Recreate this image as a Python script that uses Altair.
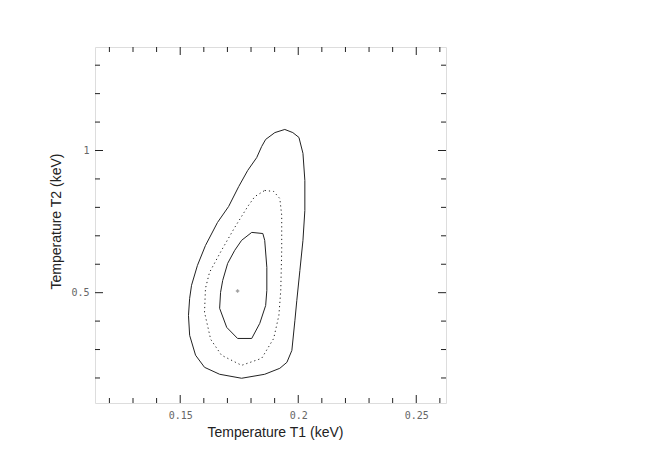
import altair as alt
import pandas as pd

# Contour data (Temperature T1 vs T2, keV)
outer_t1 = [0.1943, 0.1977, 0.2003, 0.2020, 0.2028, 0.2028, 0.2020, 0.2007, 0.1994, 0.1986,
            0.1973, 0.1952, 0.1922, 0.1858, 0.1760, 0.1667, 0.1603, 0.1565, 0.1540, 0.1535,
            0.1540, 0.1548, 0.1573, 0.1607, 0.1658, 0.1705, 0.1748, 0.1786, 0.1824, 0.1845,
            0.1862, 0.1901, 0.1943]
outer_t2 = [1.074, 1.063, 1.046, 0.990, 0.895, 0.789, 0.684, 0.578, 0.473, 0.403,
            0.297, 0.255, 0.234, 0.213, 0.199, 0.213, 0.2375, 0.280, 0.350, 0.420,
            0.480, 0.526, 0.596, 0.666, 0.747, 0.803, 0.8735, 0.930, 0.975, 1.014,
            1.039, 1.063, 1.074]

mid_t1 = [0.1858, 0.1896, 0.1922, 0.1930, 0.1930, 0.1926, 0.1918, 0.1896, 0.1845, 0.1760,
          0.1675, 0.1629, 0.1603, 0.1607, 0.1624, 0.1675, 0.1731, 0.1786, 0.1816, 0.1858]
mid_t2 = [0.8595, 0.856, 0.831, 0.772, 0.649, 0.508, 0.420, 0.339, 0.269, 0.2445,
          0.280, 0.336, 0.431, 0.515, 0.571, 0.649, 0.7295, 0.803, 0.838, 0.8595]

inner_t1 = [0.1803, 0.1850, 0.1858, 0.1867, 0.1867, 0.1862, 0.1837, 0.1803, 0.1743, 0.1697,
            0.1667, 0.1671, 0.1680, 0.1701, 0.1731, 0.1760, 0.1803]
inner_t2 = [0.712, 0.708, 0.684, 0.589, 0.508, 0.455, 0.392, 0.339, 0.339, 0.378,
            0.445, 0.501, 0.543, 0.603, 0.649, 0.684, 0.712]

best_t1 = [0.1743]
best_t2 = [0.506]

# Axis ticks
x_major = [0.15, 0.2, 0.25]
x_minor = [0.12, 0.13, 0.14, 0.16, 0.17, 0.18, 0.19, 0.21, 0.22, 0.23, 0.24, 0.26]
y_major = [0.5, 1.0]
y_minor = [0.2, 0.3, 0.4, 0.6, 0.7, 0.8, 0.9, 1.1, 1.2, 1.3]

x_domain = [0.1139, 0.2626]
y_domain = [0.112, 1.364]

W, H = 351, 356
ink = "#222222"

def contour_df(t1, t2):
    return pd.DataFrame({"t1": t1, "t2": t2, "i": list(range(len(t1)))})

xs = alt.Scale(domain=x_domain, nice=False, zero=False)
ys = alt.Scale(domain=y_domain, nice=False, zero=False)

x_axis = alt.Axis(values=x_major, format=".2~f", ticks=False, domain=False, grid=False,
                  labelFont="DejaVu Sans Mono", labelFontSize=10, labelColor="#666666",
                  labelPadding=7, title="Temperature T1 (keV)", titleFont="Liberation Sans",
                  titleFontSize=14, titleFontWeight="normal", titleColor=ink,
                  titleX=180, titleY=29, titleBaseline="middle", titleAlign="center")
y_axis = alt.Axis(values=y_major, format="~g", ticks=False, domain=False, grid=False,
                  labelFont="DejaVu Sans Mono", labelFontSize=10, labelColor="#666666",
                  labelPadding=6, title="Temperature T2 (keV)", titleFont="Liberation Sans",
                  titleFontSize=14, titleFontWeight="normal", titleColor=ink,
                  titleX=-39, titleY=174, titleBaseline="middle", titleAlign="center",
                  titleAngle=270)

def contour(t1, t2, dash=None):
    kw = dict(color=ink, strokeWidth=1, clip=True)
    if dash:
        kw["strokeDash"] = dash
    return alt.Chart(contour_df(t1, t2)).mark_line(**kw).encode(
        x=alt.X("t1:Q", scale=xs, axis=x_axis),
        y=alt.Y("t2:Q", scale=ys, axis=y_axis),
        order="i:Q",
    )

outer = contour(outer_t1, outer_t2)
middle = contour(mid_t1, mid_t2, dash=[1.2, 3])
inner = contour(inner_t1, inner_t2)

best = alt.Chart(pd.DataFrame({"t1": best_t1, "t2": best_t2})).mark_point(
    shape="cross", size=12, filled=True, color="#777777").encode(
    x=alt.X("t1:Q", scale=xs), y=alt.Y("t2:Q", scale=ys))

def xticks(vals, length, top):
    df = pd.DataFrame({"v": vals})
    if top:
        yv, y2v = alt.value(0), alt.value(length)
    else:
        yv, y2v = alt.value(H), alt.value(H - length)
    return alt.Chart(df).mark_rule(color=ink, strokeWidth=1).encode(
        x=alt.X("v:Q", scale=xs), y=yv, y2=y2v)

def yticks(vals, length, left):
    df = pd.DataFrame({"v": vals})
    if left:
        xv, x2v = alt.value(0), alt.value(length)
    else:
        xv, x2v = alt.value(W), alt.value(W - length)
    return alt.Chart(df).mark_rule(color=ink, strokeWidth=1).encode(
        y=alt.Y("v:Q", scale=ys), x=xv, x2=x2v)

ticks = [
    xticks(x_major, 8, False), xticks(x_minor, 5, False),
    xticks(x_major, 8, True), xticks(x_minor, 5, True),
    yticks(y_major, 8, True), yticks(y_minor, 5, True),
    yticks(y_major, 8, False), yticks(y_minor, 5, False),
]

chart = alt.layer(outer, middle, inner, best, *ticks).properties(
    width=W, height=H,
    autosize=alt.AutoSizeParams(type="none"),
    padding={"left": 87, "top": 39, "right": 200, "bottom": 50},
).configure_view(stroke=ink, strokeWidth=1).configure(background="white")

chart.save("out.html", embed_options={"renderer": "svg", "actions": False})
